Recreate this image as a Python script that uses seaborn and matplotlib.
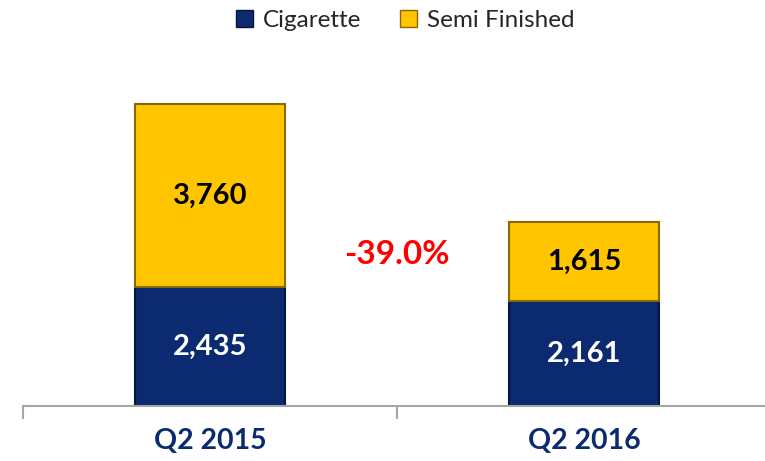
import pandas as pd
import seaborn as sns
import matplotlib.pyplot as plt
from matplotlib.patches import Patch

# ---------------------------------------------------------
#  Data
# ---------------------------------------------------------
quarters = ['Q2 2015', 'Q2 2016']
cigarette = [2435, 2161]
semi_finished = [3760, 1615]
change_label = '-39.0%'

df = pd.DataFrame({'quarter': quarters,
                   'Cigarette': cigarette,
                   'Semi Finished': semi_finished})

navy = '#0b2a6f'
gold = '#ffc600'
label_navy = '#0b2a6f'

# ---------------------------------------------------------
#  Plot
# ---------------------------------------------------------
sns.set_theme(style='white')
plt.rcParams['font.family'] = ['Lato', 'DejaVu Sans']

fig = plt.figure(figsize=(7.65, 4.61), dpi=100)
ax = fig.add_axes([23 / 765, 55 / 461, 748 / 765, 341 / 461])

sns.barplot(data=df, x='quarter', y='Cigarette', color=navy, width=0.40,
            edgecolor='#06163d', linewidth=1.5, saturation=1, ax=ax)
sns.barplot(data=df, x='quarter', y='Semi Finished', color=gold, width=0.40,
            bottom=df['Cigarette'], edgecolor='#8a6a00', linewidth=1.5,
            saturation=1, ax=ax)

ax.set_xlim(-0.5, 1.5)
ax.set_ylim(0, 7000)

# value labels
for i, (c, s) in enumerate(zip(cigarette, semi_finished)):
    ax.text(i, c / 2, f'{c:,}', ha='center', va='center', color='white',
            fontsize=21, fontweight='bold')
    ax.text(i, c + s / 2, f'{s:,}', ha='center', va='center', color='black',
            fontsize=21, fontweight='bold')

ax.text(0.5, 3100, change_label, ha='center', va='center', color='#ff0000',
        fontsize=24, fontweight='bold')

# axis styling
for side in ['top', 'right', 'left']:
    ax.spines[side].set_visible(False)
ax.spines['bottom'].set_color('#a6a6a6')
ax.spines['bottom'].set_linewidth(1.5)
ax.set_yticks([])
ax.set_xticks([-0.5, 0.5, 1.5], minor=True)
ax.tick_params(axis='x', which='minor', length=9, width=1.5,
               color='#a6a6a6', direction='out', bottom=True)
ax.tick_params(axis='x', which='major', length=0, pad=16)
for lbl in ax.get_xticklabels():
    lbl.set_fontsize(20.5)
    lbl.set_fontweight('bold')
    lbl.set_color(label_navy)
ax.set_xlabel('')
ax.set_ylabel('')

handles = [Patch(facecolor=navy, edgecolor='#06163d', label='Cigarette'),
           Patch(facecolor=gold, edgecolor='#8a6a00', label='Semi Finished')]
fig.legend(handles=handles, loc='upper center', bbox_to_anchor=(0.53, 1.025),
           ncol=2, frameon=False, fontsize=17.5, handlelength=0.7,
           handleheight=0.7, columnspacing=1.6, handletextpad=0.4)

plt.savefig('out.png', dpi=100)
